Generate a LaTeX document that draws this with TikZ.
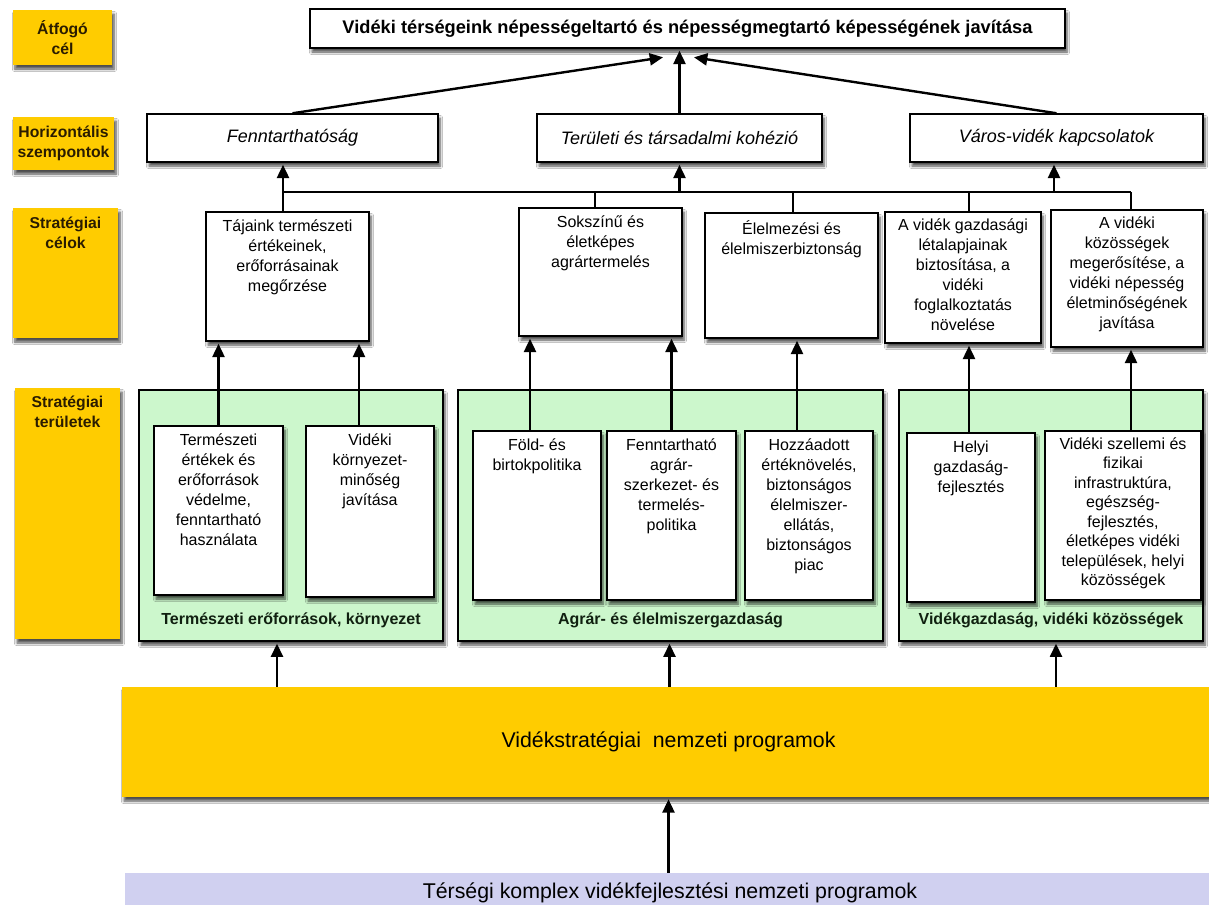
\documentclass[tikz,border=0pt]{standalone}
\usepackage{fontspec}
\setmainfont{Liberation Sans}
\usetikzlibrary{arrows.meta,shadows,shadows.blur,fit,calc}
\definecolor{ylw}{HTML}{FFCC00}
\definecolor{grn}{HTML}{CCF7CC}
\definecolor{lav}{HTML}{D0D0F0}
\definecolor{lbltext}{HTML}{2A1C00}
\definecolor{gtext}{HTML}{102010}
\begin{document}
\begin{tikzpicture}[x=0.75pt,y=-0.75pt,
  shd/.style={blur shadow={shadow xshift=1.5pt,shadow yshift=-3pt,shadow blur radius=2pt,shadow blur steps=6,shadow opacity=70}},
  lblbox/.style={fill=ylw, draw=none, inner sep=0pt, shd},
  lbltxt/.style={font=\bfseries\fontsize{11.8}{15}\selectfont, text=lbltext, align=center, inner sep=0pt},
  wbox/.style={fill=white, draw=black, line width=1.1pt, inner sep=0pt, shd},
  titletxt/.style={font=\bfseries\fontsize{13.7}{16}\selectfont, inner sep=0pt},
  htxt/.style={font=\itshape\fontsize{13.5}{16}\selectfont, inner sep=0pt},
  btxt/.style={anchor=north, font=\fontsize{12}{15}\selectfont, align=center, inner sep=0pt},
  gbox/.style={fill=grn, draw=black, line width=0.9pt, inner sep=0pt, shd},
  gtxt/.style={font=\bfseries\fontsize{12}{14}\selectfont, text=gtext, inner sep=0pt},
  bandtxt/.style={font=\fontsize{16}{19}\selectfont, inner sep=0pt},
  conn/.style={line width=1.8pt},
  arr/.style={conn, -{Triangle[length=10pt,width=9pt]}, shorten >=1.5pt},
]
\useasboundingbox (0,0) rectangle (1209,904);
\fill[white] (0,0) rectangle (1209,904);

% ---- left labels
\node[lblbox, fit={(13,10)(112,65)}] (L1) {};
\node[lbltxt] (L1t) at (L1.center) {Átfogó\\cél};
\node[lblbox, fit={(13,117)(114,170)}] (L2) {};
\node[lbltxt] (L2t) at (L2.center) {Horizontális\\szempontok};
\node[lblbox, fit={(13,208)(118,338)}] (L3) {};
\node[lbltxt, anchor=north] (L3t) at ($(L3.north)+(0,9)$) {Stratégiai\\célok};
\node[lblbox, fit={(15,388)(120,639)}] (L4) {};
\node[lbltxt, anchor=north] (L4t) at ($(L4.north)+(0,8)$) {Stratégiai\\területek};

% ---- top goal
\node[wbox, fit={(310,9)(1065,48)}] (top) {};
\node[titletxt] (topt) at (top.center) {Vidéki térségeink népességeltartó és népességmegtartó képességének javítása};

% ---- horizontal aspects
\node[wbox, fit={(147,114)(438,162)}] (h1) {};
\node[htxt] (h1t) at (h1.center) {Fenntarthatóság};
\node[wbox, fit={(537,114)(822,162)}] (h2) {};
\node[htxt] (h2t) at (h2.center) {Területi és társadalmi kohézió};
\node[wbox, fit={(910,114)(1203,162)}] (h3) {};
\node[htxt] (h3t) at (h3.center) {Város-vidék kapcsolatok};

% ---- strategic goals
\node[wbox, fit={(206,212)(369,341)}] (c1) {};
\node[btxt] (c1t) at ($(c1.north)+(0,8)$) {Tájaink természeti\\értékeinek,\\erőforrásainak\\megőrzése};
\node[wbox, fit={(519,208)(682,336)}] (c2) {};
\node[btxt] (c2t) at ($(c2.north)+(0,8)$) {Sokszínű és\\életképes\\agrártermelés};
\node[wbox, fit={(705,213)(878,338)}] (c3) {};
\node[btxt] (c3t) at ($(c3.north)+(0,8)$) {Élelmezési és\\élelmiszerbiztonság};
\node[wbox, fit={(885,212)(1041,343)}] (c4) {};
\node[btxt] (c4t) at ($(c4.north)+(0,7)$) {A vidék gazdasági\\létalapjainak\\biztosítása, a\\vidéki\\foglalkoztatás\\növelése};
\node[wbox, fit={(1051,210)(1203,347)}] (c5) {};
\node[btxt] (c5t) at ($(c5.north)+(0,7)$) {A vidéki\\közösségek\\megerősítése, a\\vidéki népesség\\életminőségének\\javítása};

% ---- strategic areas
\node[gbox, fit={(139,390)(443,641)}] (g1) {};
\node[gbox, fit={(458,390)(883,641)}] (g2) {};
\node[gbox, fit={(899,390)(1203,641)}] (g3) {};
\node[gtxt] (g1t) at ($(g1.south)+(0,-21)$) {Természeti erőforrások, környezet};
\node[gtxt] (g2t) at ($(g2.south)+(0,-21)$) {Agrár- és élelmiszergazdaság};
\node[gtxt] (g3t) at ($(g3.south)+(0,-21)$) {Vidékgazdaság, vidéki közösségek};

\node[wbox, fit={(154,426)(283,595)}] (a1) {};
\node[btxt] (a1t) at ($(a1.north)+(0,8)$) {Természeti\\értékek és\\erőforrások\\védelme,\\fenntartható\\használata};
\node[wbox, fit={(306,426)(434,597)}] (a2) {};
\node[btxt] (a2t) at ($(a2.north)+(0,8)$) {Vidéki\\környezet-\\minőség\\javítása};
\node[wbox, fit={(473,431)(601,600)}] (a3) {};
\node[btxt] (a3t) at ($(a3.north)+(0,8)$) {Föld- és\\birtokpolitika};
\node[wbox, fit={(607,431)(736,600)}] (a4) {};
\node[btxt] (a4t) at ($(a4.north)+(0,8)$) {Fenntartható\\agrár-\\szerkezet- és\\termelés-\\politika};
\node[wbox, fit={(745,431)(873,600)}] (a5) {};
\node[btxt] (a5t) at ($(a5.north)+(0,8)$) {Hozzáadott\\értéknövelés,\\biztonságos\\élelmiszer-\\ellátás,\\biztonságos\\piac};
\node[wbox, fit={(907,433)(1035,602)}] (a6) {};
\node[btxt] (a6t) at ($(a6.north)+(0,8)$) {Helyi\\gazdaság-\\fejlesztés};
\node[wbox, fit={(1045,431)(1201,600)}] (a7) {};
\node[btxt, font=\fontsize{12}{14.6}\selectfont] (a7t) at ($(a7.north)+(0,7)$) {Vidéki szellemi és\\fizikai\\infrastruktúra,\\egészség-\\fejlesztés,\\életképes vidéki\\települések, helyi\\közösségek};

% ---- programme bands
\node[fill=ylw, inner sep=0pt, shd, fit={(122,687)(1215,797)}] (prog) {};
\node[bandtxt] (progt) at (prog.center) {Vidékstratégiai\ \ nemzeti programok};
\node[fill=lav, inner sep=0pt, fit={(125,873)(1215,912)}] (lav) {};
\node[bandtxt] (lavt) at (lav.center) {Térségi komplex vidékfejlesztési nemzeti programok};

% ---- connectors: horizontal aspects -> top goal
\coordinate (tL) at (665,57);
\coordinate (tR) at (692,57);
\draw[arr] (h1.north) -- (tL);
\draw[arr] (h2.north) -- (h2.north |- top.south);
\draw[arr] (h3.north) -- (tR);

% ---- bus between strategic goals and horizontal aspects
\coordinate (b1) at (283,192);
\coordinate (b2) at (595,192);
\coordinate (b3) at (793,192);
\coordinate (b4) at (969,192);
\coordinate (b5) at (1131,192);
\coordinate (hx3) at (1054,192);
\draw[conn] (b1) -- (b5);
\draw[arr] (b1) -- (b1 |- h1.south);
\draw[arr] (h2.south |- b1) -- (h2.south);
\draw[arr] (hx3) -- (hx3 |- h3.south);
\draw[conn] (b1) -- (b1 |- c1.north);
\draw[conn] (b2) -- (b2 |- c2.north);
\draw[conn] (b3) -- (b3 |- c3.north);
\draw[conn] (b4) -- (b4 |- c4.north);
\draw[conn] (b5) -- (b5 |- c5.north);

% ---- strategic areas -> strategic goals
\coordinate (x1) at (a1.north);
\coordinate (x2) at ($(a2.north)+(-11,0)$);
\coordinate (x3) at ($(a3.north)+(-7,0)$);
\coordinate (x4) at (a4.north);
\coordinate (x5) at ($(a5.north)+(-12,0)$);
\coordinate (x6) at ($(a6.north)+(-2,0)$);
\coordinate (x7) at ($(a7.north)+(8,0)$);
\draw[arr] (x1) -- (x1 |- c1.south);
\draw[arr] (x2) -- (x2 |- c1.south);
\draw[arr] (x3) -- (x3 |- c2.south);
\draw[arr] (x4) -- (x4 |- c2.south);
\draw[arr] (x5) -- (x5 |- c3.south);
\draw[arr] (x6) -- (x6 |- c4.south);
\draw[arr] (x7) -- (x7 |- c5.south);

% ---- programmes -> areas
\coordinate (p1) at ($(g1.south)+(-14,0)$);
\coordinate (p2) at ($(g2.south)+(-1,0)$);
\coordinate (p3) at ($(g3.south)+(5,0)$);
\draw[arr] (p1 |- prog.north) -- (p1);
\draw[arr] (p2 |- prog.north) -- (p2);
\draw[arr] (p3 |- prog.north) -- (p3);
\draw[arr] (prog.south |- lav.north) -- (prog.south);
\end{tikzpicture}
\end{document}
